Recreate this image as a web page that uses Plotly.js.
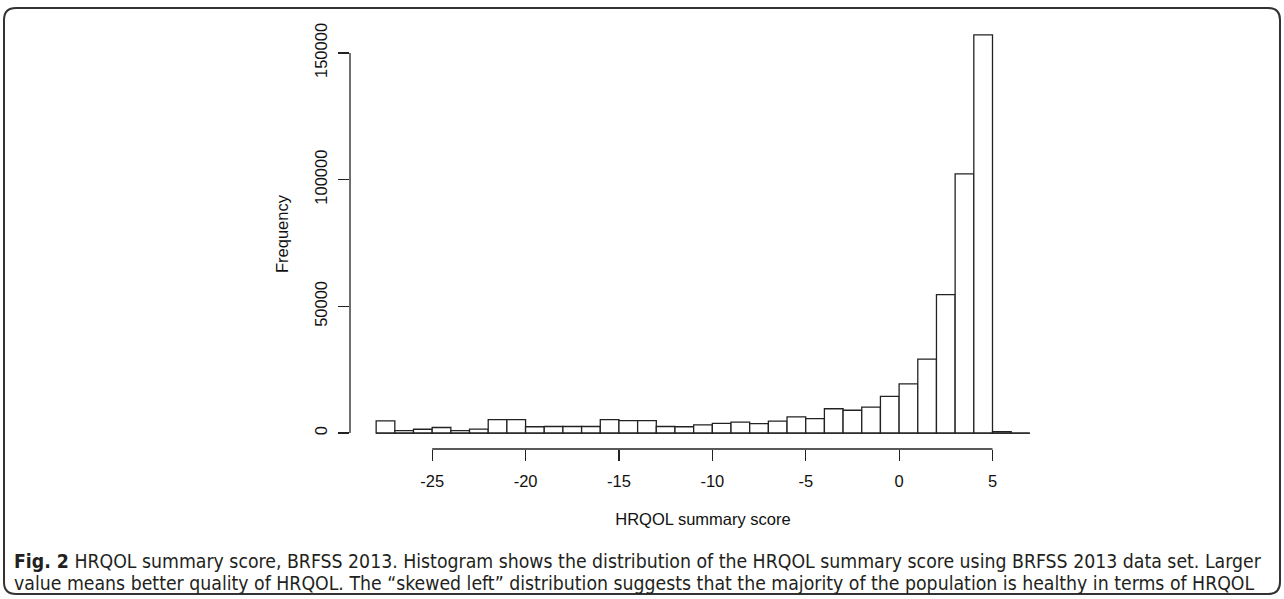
<!DOCTYPE html>
<html>
<head>
<meta charset="utf-8">
<script src="https://cdn.plot.ly/plotly-3.0.1.min.js"></script>
<style>
html,body{margin:0;padding:0;background:#fff;}
#chart{width:1284px;height:599px;}
</style>
</head>
<body>
<div id="chart"></div>
<script>
// ---- data (histogram, bin width 1, from -28 to 7) ----
const binStart = -28;
const binWidth = 1;
const counts = [4800, 1000, 1500, 2200, 950, 1550, 5300, 5300, 2500, 2600,
                2600, 2600, 5300, 4900, 4900, 2600, 2500, 3200, 3800, 4300,
                3700, 4700, 6400, 5700, 9600, 9000, 10200, 14500, 19400, 29200,
                54600, 102300, 157100, 600, 0];
const xTickVals = [-25, -20, -15, -10, -5, 0, 5];
const xTickText = ["-25", "-20", "-15", "-10", "-5", "0", "5"];
const yTickVals = [0, 50000, 100000, 150000];
const yTickText = ["0", "50000", "100000", "150000"];
const xTitle = "HRQOL summary score";
const yTitle = "Frequency";
const captionLine1 = "<b>Fig. 2</b> HRQOL summary score, BRFSS 2013. Histogram shows the distribution of the HRQOL summary score using BRFSS 2013 data set. Larger";
const captionLine2 = "value means better quality of HRQOL. The \u201cskewed left\u201d distribution suggests that the majority of the population is healthy in terms of HRQOL";

// ---- derived ----
const edges = counts.map((_, i) => binStart + i * binWidth);
const centers = edges.map(e => e + binWidth / 2);
const lo = binStart, hi = binStart + counts.length * binWidth;
const xExt = 0.04 * (hi - lo);
const yMax = Math.max(...counts);
const yExt = 0.04 * yMax;

// layout geometry in pixels
const W = 1284, H = 599;
const M = {l: 350, r: 228, t: 19, b: 150};
const PW = W - M.l - M.r, PH = H - M.t - M.b;
const px = x => (x - M.l) / PW;
const py = y => (H - M.b - y) / PH;

const font = "Liberation Sans, Arial, Helvetica, sans-serif";
const capFont = "DejaVu Sans Condensed, Liberation Sans Narrow, sans-serif";

const trace = {
  type: "bar",
  x: centers,
  y: counts,
  width: binWidth,
  marker: {color: "#ffffff", line: {color: "#222222", width: 1.3}},
  hoverinfo: "x+y",
  showlegend: false
};

// rounded frame path
const fx0 = px(4), fx1 = px(1280), fy0 = py(8), fy1 = py(594);
const rx = 12 / PW, ry = 12 / PH;
const frame = `M ${fx0 + rx} ${fy0} L ${fx1 - rx} ${fy0} Q ${fx1} ${fy0} ${fx1} ${fy0 - ry} ` +
  `L ${fx1} ${fy1 + ry} Q ${fx1} ${fy1} ${fx1 - rx} ${fy1} L ${fx0 + rx} ${fy1} ` +
  `Q ${fx0} ${fy1} ${fx0} ${fy1 + ry} L ${fx0} ${fy0 - ry} Q ${fx0} ${fy0} ${fx0 + rx} ${fy0} Z`;

const layout = {
  width: W, height: H,
  margin: M,
  paper_bgcolor: "#ffffff",
  plot_bgcolor: "#ffffff",
  bargap: 0,
  font: {family: font, size: 16.5, color: "#111"},
  xaxis: {
    range: [lo - xExt, hi + xExt],
    tickvals: xTickVals, ticktext: xTickText,
    ticks: "outside", ticklen: 11, tickwidth: 1.2, tickcolor: "#222",
    showgrid: false, zeroline: false, showline: false,
    ticklabelstandoff: 6,
    tickfont: {family: font, size: 16.5, color: "#111"},
    title: {text: xTitle, font: {family: font, size: 16.5, color: "#111"}, standoff: 24},
    fixedrange: true
  },
  yaxis: {
    range: [-yExt, yMax + yExt],
    tickvals: yTickVals, ticktext: yTickText,
    ticks: "outside", ticklen: 11, tickwidth: 1.2, tickcolor: "#222",
    tickangle: -90,
    showgrid: false, zeroline: false, showline: false,
    ticklabelstandoff: 4,
    tickfont: {family: font, size: 16.5, color: "#111"},
    title: {text: yTitle, font: {family: font, size: 16.5, color: "#111"}, standoff: 19},
    fixedrange: true
  },
  shapes: [
    {type: "line", xref: "x", yref: "paper", x0: xTickVals[0], x1: xTickVals[xTickVals.length - 1], y0: 0, y1: 0,
     line: {color: "#222", width: 1.3}},
    {type: "line", xref: "paper", yref: "y", x0: 0, x1: 0, y0: yTickVals[0], y1: yTickVals[yTickVals.length - 1],
     line: {color: "#222", width: 1.3}},
    {type: "line", xref: "x", yref: "y", x0: lo, x1: hi, y0: 0, y1: 0,
     line: {color: "#222", width: 1.3}},
    {type: "path", xref: "paper", yref: "paper", path: frame, line: {color: "#333", width: 2}, layer: "below"}
  ],
  annotations: [
    {xref: "paper", yref: "paper", x: px(12), y: py(561), xanchor: "left", yanchor: "middle",
     text: captionLine1, showarrow: false, font: {family: capFont, size: 19.3, color: "#231f20"}},
    {xref: "paper", yref: "paper", x: px(12), y: py(583), xanchor: "left", yanchor: "middle",
     text: captionLine2, showarrow: false, font: {family: capFont, size: 19.3, color: "#231f20"}}
  ]
};

Plotly.newPlot("chart", [trace], layout, {displayModeBar: false, staticPlot: true});
</script>
</body>
</html>
